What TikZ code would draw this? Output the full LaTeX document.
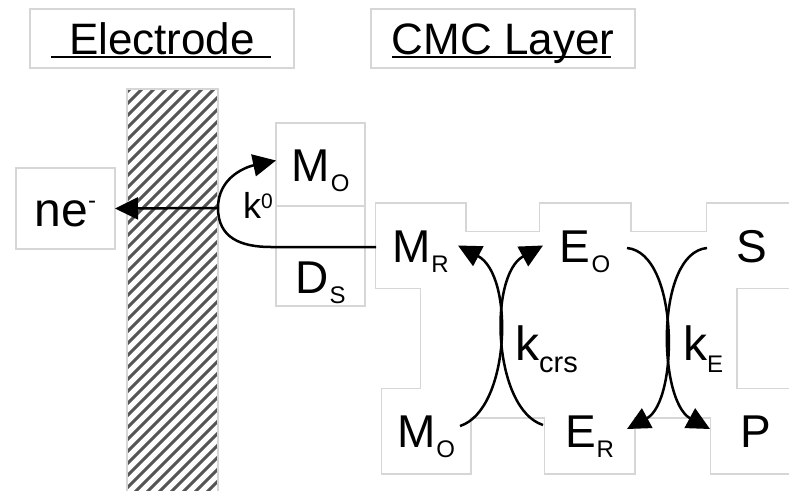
\documentclass[tikz,border=0pt]{standalone}
\usepackage{fontspec}
\setmainfont{Liberation Sans}
\usetikzlibrary{arrows.meta,positioning,backgrounds}

\definecolor{rimgray}{RGB}{214,214,214}
\definecolor{hatchgray}{RGB}{85,85,85}
\newcommand\chemsp[2]{#1\kern1pt\raisebox{-10pt}{\fontsize{24}{24}\selectfont #2}}

\begin{document}
\begin{tikzpicture}[x=1pt, y=-1pt, >={Triangle[length=23pt,width=22pt]},
  box/.style={draw=rimgray, line width=1.5pt, inner sep=0pt, outer sep=0pt, minimum width=89pt,
    text height=33pt, text depth=0pt, font=\fontsize{46}{46}\selectfont},
  cell/.style={inner sep=0pt, outer sep=0pt, minimum width=89pt, minimum height=84pt,
    text height=33pt, text depth=0pt, font=\fontsize{46}{46}\selectfont},
  head/.style={box, minimum width=264pt, minimum height=59pt, text height=31pt, font=\fontsize{44}{44}\selectfont},
  rim/.style={draw=rimgray, line width=3pt},
  flow/.style={->, line width=2.5pt},
  klabel/.style={anchor=base west, inner sep=0pt}]
\useasboundingbox (0,0) rectangle (789,490);

% headers
\node[head] (elec) at (162,38.5) {Electrode};
\node[head] (cmc) at (503,38.5) {CMC Layer};
\draw[line width=1.5pt] ([xshift=21pt,yshift=-18.5pt]elec.west) -- ([xshift=-23pt,yshift=-18.5pt]elec.east);
\draw[line width=1.5pt] ([xshift=21pt,yshift=-18.5pt]cmc.west) -- ([xshift=-24pt,yshift=-18.5pt]cmc.east);

% electrode plate
\begin{scope}
  \clip (127,89) rectangle (218,495);
  \foreach \x in {-420,-408,...,220}
    \draw[line width=3pt, hatchgray] (\x,495) -- ++(406,-406);
\end{scope}
\draw[rimgray, line width=1.5pt] (127,495) -- (127,89) -- (218,89) -- (218,495);

% left side
\node[box, minimum width=99pt, minimum height=81pt, text height=35pt, font=\fontsize{48}{48}\selectfont] (ne) at (65.5,208.5)
  {ne\raisebox{18pt}{\fontsize{24}{24}\selectfont -}};
\node[box, minimum height=83pt] (MOt) at (320.5,164.5) {\chemsp{M}{O}};
\node[box, minimum height=41pt, below=0pt of MOt] (gap) {};
\node[box, minimum height=59pt, below=0pt of gap] (DS) {\chemsp{D}{S}};

% CMC layer species
\node[cell] (MR) at (420.5,245.5) {\chemsp{M}{R}};
\node[cell, minimum width=90pt] (EO) at (585,245.5) {\chemsp{E}{O}};
\node[cell, minimum width=90pt] (S) at (752,245.5) {S};
\node[cell, minimum width=88pt] (MOb) at (426,431) {\chemsp{M}{O}};
\node[cell] (ER) at (589.5,431) {\chemsp{E}{R}};
\node[cell] (P) at (755.5,431) {P};

\begin{scope}[on background layer]
  \fill[white] (0,0) rectangle (789,490);
  \foreach \n in {MR,EO,S,MOb,ER,P}
    \draw[rim] (\n.south west) rectangle (\n.north east);
  \draw[rim] (421,232) rectangle (736,417);
  \foreach \n in {MR,EO,S,MOb,ER,P}
    \fill[white] (\n.south west) rectangle (\n.north east);
  \fill[white] (421,232) rectangle (736,417);
\end{scope}

% electron transfer at the electrode
\coordinate (jn) at (218,208);
\draw[flow] (jn) -- (ne.east);
\draw[flow] (jn) .. controls +(0,-32) and +(-28,6) .. ([yshift=4pt]MOt.west);
\draw[line width=2.5pt] (jn) .. controls +(0,30) and +(-30,0) .. ([xshift=-105pt,yshift=-1.5pt]MR.west) -- ([yshift=-1.5pt]MR.west);
\node[klabel, font=\fontsize{36}{36}\selectfont] (kzero) at (243,218) {k\raisebox{10pt}{\fontsize{21}{21}\selectfont 0}};

% cross reaction and enzyme reaction
\draw[flow] ([xshift=-10pt,yshift=5pt]MOb.east) .. controls +(50,-16) and +(57,30) .. ([xshift=-7pt]MR.east);
\draw[flow] ([xshift=-2pt,yshift=6pt]ER.west) .. controls +(-50,-16) and +(-55,30) .. ([xshift=3pt]EO.west);
\draw[flow] ([xshift=-3pt,yshift=-2.5pt]EO.east) .. controls +(52,5) and +(52,-28) .. ([xshift=-7pt,yshift=2pt]ER.east);
\draw[flow] ([yshift=-2.5pt]S.west) .. controls +(-52,5) and +(-52,-28) .. ([xshift=-1pt,yshift=2pt]P.west);
\node[klabel, font=\fontsize{48}{48}\selectfont] (kcrs) at (515,360) {k\raisebox{-12pt}{\fontsize{29}{29}\selectfont crs}};
\node[klabel, font=\fontsize{48}{48}\selectfont] (kE) at (683,360) {k\raisebox{-12pt}{\fontsize{24}{24}\selectfont E}};
\end{tikzpicture}
\end{document}
